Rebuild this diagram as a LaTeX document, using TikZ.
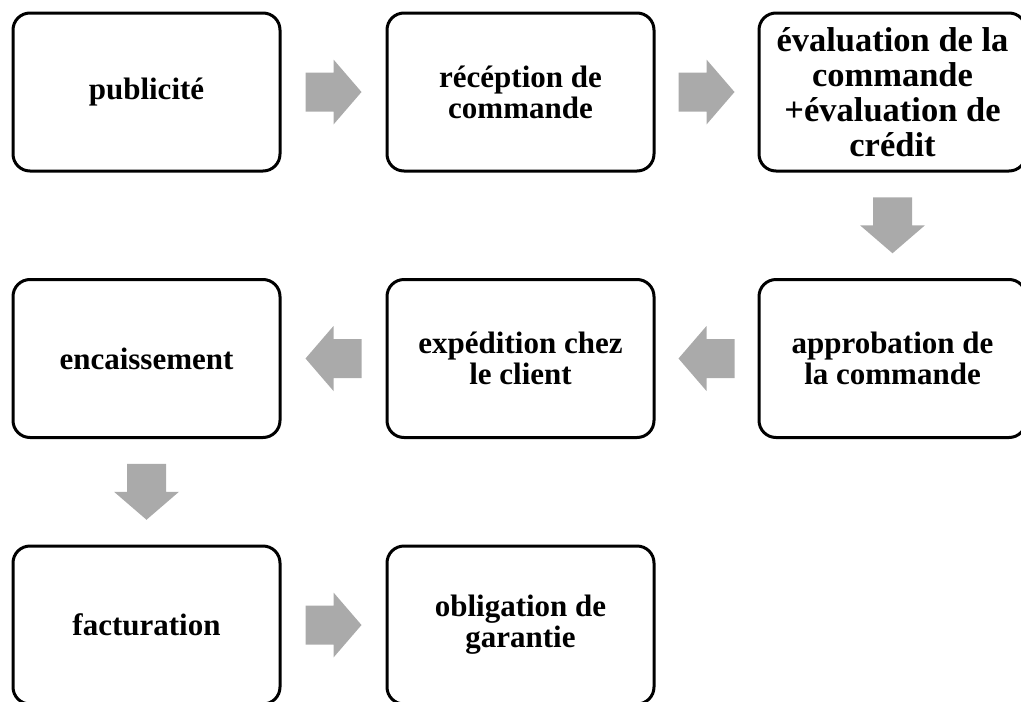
\documentclass[tikz,border=0pt]{standalone}
\usepackage{fontspec}
\setmainfont{Liberation Serif}
\usetikzlibrary{calc}
\definecolor{arrowgray}{HTML}{AAAAAA}
\tikzset{
  box/.style={draw=black, line width=3pt, rounded corners=17pt, fill=white,
    minimum width=267pt, minimum height=158pt, inner sep=0pt, align=center,
    font=\bfseries\fontsize{31}{31}\selectfont},
  bigtext/.style={font=\bfseries\fontsize{34.5}{35}\selectfont},
  blockarrow/.pic={\fill[arrowgray] (-28,-19.5) -- (0,-19.5) -- (0,-32.5) -- (28,0)
     -- (0,32.5) -- (0,19.5) -- (-28,19.5) -- cycle;}
}
\begin{document}
\begin{tikzpicture}[x=1pt,y=-1pt]
\useasboundingbox (0,0) rectangle (1021,702);
\node[box] (b1) at (146.5,92) {publicité};
\node[box] (b2) at (520.5,92) {récéption de\\commande};
\node[box, bigtext] (b3) at (892.5,92) {évaluation de la\\commande\\+évaluation de\\crédit};
\node[box] (b4) at (892.5,358.5) {approbation de\\la commande};
\node[box] (b5) at (520.5,358.5) {expédition chez\\le client};
\node[box] (b6) at (146.5,358.5) {encaissement};
\node[box] (b7) at (146.5,625) {facturation};
\node[box] (b8) at (520.5,625) {obligation de\\garantie};
\pic at ($(b1.east)!0.5!(b2.west)$) {blockarrow};
\pic at ($(b2.east)!0.5!(b3.west)$) {blockarrow};
\pic[rotate=-90] at ($(b3.south)!0.5!(b4.north)$) {blockarrow};
\pic[rotate=180] at ($(b4.west)!0.5!(b5.east)$) {blockarrow};
\pic[rotate=180] at ($(b5.west)!0.5!(b6.east)$) {blockarrow};
\pic[rotate=-90] at ($(b6.south)!0.5!(b7.north)$) {blockarrow};
\pic at ($(b7.east)!0.5!(b8.west)$) {blockarrow};
\end{tikzpicture}
\end{document}
